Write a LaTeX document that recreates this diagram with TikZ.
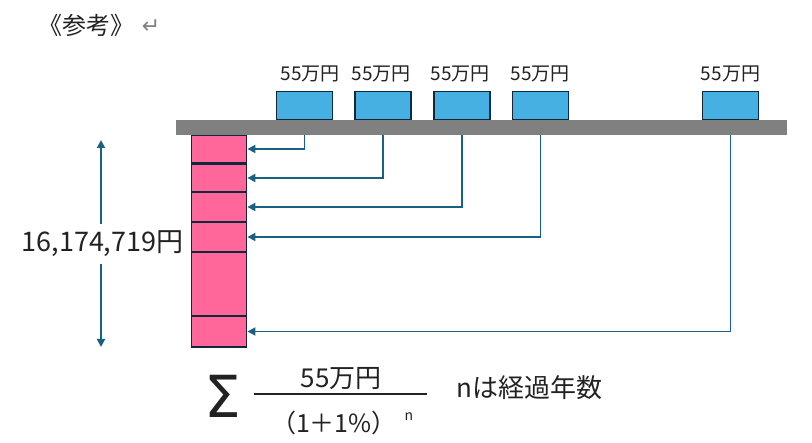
\documentclass[tikz,border=0pt]{standalone}
\usepackage{fontspec}
\setmainfont{Noto Sans CJK JP}
\newfontfamily\symfont{DejaVu Sans}
\usetikzlibrary{arrows.meta}
\definecolor{bargray}{RGB}{128,128,128}
\definecolor{payblue}{RGB}{69,176,225}
\definecolor{segpink}{RGB}{255,102,153}
\definecolor{edgenavy}{RGB}{14,40,62}
\definecolor{flowblue}{RGB}{26,96,130}
\definecolor{textblack}{RGB}{34,34,34}
\begin{document}
\begin{tikzpicture}[%
      x=1pt, y=-1pt,
      every node/.style={inner sep=0pt, text=textblack},
      payment/.style={draw=edgenavy, fill=payblue, line width=1.8pt,
                      minimum width=56pt, minimum height=28pt},
      segment/.style={draw=edgenavy, fill=segpink, line width=1.8pt,
                      minimum width=55pt},
      flow/.style={draw=flowblue, line width=1.8pt,
                   -{Triangle[length=8pt,width=8pt]}},
      amount/.style={font=\fontsize{19}{22}\selectfont},
      bigtext/.style={font=\fontsize{26}{30}\selectfont}
    ]
    \useasboundingbox (0,0) rectangle (812,443);
    % title
    \node[font=\fontsize{24}{27}\selectfont] (title) at (86.5,25) {《参考》};
    \node[font=\symfont\fontsize{22}{24}\selectfont, text=bargray] (ret) at (151,27) {↵};
    % payments
    \foreach \x/\lx [count=\i] in {304.5/310,383/381,462/460,540.5/540,730.5/730.5} {
      \node[payment] (b\i) at (\x,105.5) {};
      \node[amount] (l\i) at (\lx,74) {55万円};
    }
    % fund column
    \foreach \y/\h [count=\i] in {149/28,178/28,207/30,237/30,284/64,331.5/31}
      \node[segment, minimum height=\h pt] (s\i) at (219,\y) {};
    \node[fill=bargray, minimum width=611pt, minimum height=15pt] (bar) at (481.5,127.5) {};
    \foreach \i/\j in {1/1,2/2,3/3,4/4,5/6}
      \draw[flow] (bar.south -| b\i) |- (s\j.east);
    % total
    \node[font=\fontsize{27}{32}\selectfont, inner ysep=7pt] (total) at (102.5,244) {16,174,719円};
    \coordinate (ttop) at (101,140);
    \coordinate (tbot) at (101,347);
    \draw[flow] (ttop |- total.north) -- (ttop);
    \draw[flow] (tbot |- total.south) -- (tbot);
    % formula
    \node[font=\symfont\fontsize{58}{60}\selectfont] (sigma) at (222.5,396.5) {Σ};
    \node[bigtext] (num) at (341,379) {55万円};
    \draw[textblack, line width=1.5pt] (254,394) -- (427,394);
    \node[font=\fontsize{25}{28}\selectfont] (den) at (334,423) {（1＋1\%）};
    \node[font=\fontsize{14}{16}\selectfont] (pow) at (409,417) {n};
    \node[bigtext] (note) at (529.5,388) {nは経過年数};
\end{tikzpicture}
\end{document}
